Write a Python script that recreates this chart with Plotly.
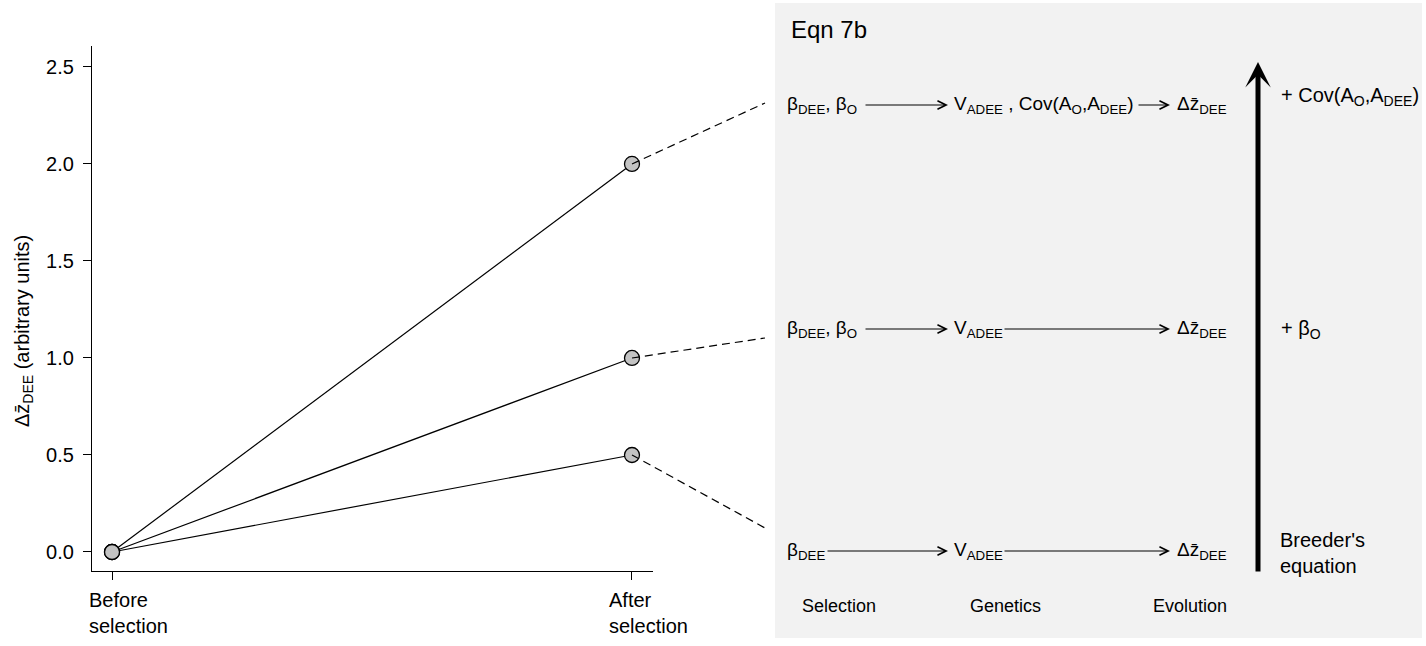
import plotly.graph_objects as go

# ---------------- data ----------------
stages = [0, 1]
stage_labels = ["Before<br>selection", "After<br>selection"]
series_low = [0.0, 0.5]
series_mid = [0.0, 1.0]
series_high = [0.0, 2.0]
y_ticks = [0.0, 0.5, 1.0, 1.5, 2.0, 2.5]
y_tick_labels = ["0.0", "0.5", "1.0", "1.5", "2.0", "2.5"]

panel_title = "Eqn 7b"
column_labels = ["Selection", "Genetics", "Evolution"]
row_selection = ["β<sub>DEE</sub>, β<sub>O</sub>", "β<sub>DEE</sub>, β<sub>O</sub>", "β<sub>DEE</sub>"]
row_genetics = ["V<sub>ADEE</sub> , Cov(A<sub>O</sub>,A<sub>DEE</sub>)", "V<sub>ADEE</sub>", "V<sub>ADEE</sub>"]
row_evolution = ["Δz̄<sub>DEE</sub>", "Δz̄<sub>DEE</sub>", "Δz̄<sub>DEE</sub>"]
side_labels = ["+ Cov(A<sub>O</sub>,A<sub>DEE</sub>)", "+ β<sub>O</sub>", "Breeder's<br>equation"]

# ---------------- layout geometry (pixels) ----------------
W, H = 1426, 646
FONT = "Liberation Sans, Arial, Helvetica, sans-serif"

def px(x):
    return x / W

def py(y):
    return 1 - y / H

ax_left, ax_right, ax_top, ax_bottom = 92, 653, 46, 571
x_range = [-0.0385, 1.0404]
y_range = [-0.098, 2.608]

dom_x = [px(ax_left), px(ax_right)]
dom_y = [py(ax_bottom), py(ax_top)]

def full_range(r, d):
    s = (r[1] - r[0]) / (d[1] - d[0])
    return [r[0] - d[0] * s, r[0] + (1 - d[0]) * s]

x2_range = full_range(x_range, dom_x)
y2_range = full_range(y_range, dom_y)

def to_x2(p):
    return x2_range[0] + (x2_range[1] - x2_range[0]) * p / W

def to_y2(p):
    return y2_range[1] - (y2_range[1] - y2_range[0]) * p / H

# diagram rows (pixel rows of the right panel)
row_y = [105, 329, 551]
connector_y = [103, 338, 528]
connector_x = 765

fig = go.Figure()

# dashed connectors from the "after" points to the diagram rows (full-figure overlay axes)
for vals, cy in zip([series_high, series_mid, series_low], connector_y):
    fig.add_trace(go.Scatter(
        x=[stages[1], to_x2(connector_x)], y=[vals[1], to_y2(cy)],
        xaxis="x2", yaxis="y2", mode="lines",
        line=dict(color="black", width=1.2, dash="8px,5px"),
        hoverinfo="skip", showlegend=False))

for vals in [series_high, series_mid, series_low]:
    fig.add_trace(go.Scatter(
        x=stages, y=vals, mode="lines+markers",
        line=dict(color="black", width=1.2),
        marker=dict(size=15, color="#c3c3c3", line=dict(color="black", width=1.3)),
        showlegend=False))

annotations = []

def text(x, y, s, size=19, xanchor="left", yanchor="middle", align="left"):
    annotations.append(dict(x=px(x), y=py(y), xref="paper", yref="paper", text=s,
                            showarrow=False, xanchor=xanchor, yanchor=yanchor, align=align,
                            font=dict(family=FONT, size=size, color="black")))

def harrow(x0, x1, y):
    annotations.append(dict(x=px(x1), y=py(y), xref="paper", yref="paper", text="",
                            showarrow=True, ax=-(x1 - x0), ay=0, arrowhead=5,
                            arrowsize=1.7, arrowwidth=1, arrowcolor="black", standoff=0))

text(789, 30, panel_title, size=24)

for i, ry in enumerate(row_y):
    text(785, ry, row_selection[i])
    text(952, ry, row_genetics[i])
    text(1175, ry, row_evolution[i])

harrow(864, 948, row_y[0]); harrow(1137, 1170, row_y[0])
harrow(864, 948, row_y[1]); harrow(1003, 1170, row_y[1])
harrow(826, 948, row_y[2]); harrow(1003, 1170, row_y[2])

for lab, cx in zip(column_labels, [839, 1005, 1190]):
    text(cx, 606, lab, size=18, xanchor="center")

# big vertical arrow
annotations.append(dict(x=px(1258), y=py(62), xref="paper", yref="paper", text="",
                        showarrow=True, ax=0, ay=573 - 62, arrowhead=3, arrowsize=0.85,
                        arrowwidth=5, arrowcolor="black", standoff=0))

text(1279, 97, side_labels[0], size=20)
text(1279, 329, side_labels[1], size=20)
text(1278, 553, side_labels[2], size=20)

# x tick labels (left-aligned blocks placed on the category positions)
for sx, lab in zip(stages, stage_labels):
    annotations.append(dict(x=sx, y=py(587), xref="x", yref="paper", text=lab,
                            showarrow=False, xanchor="left", yanchor="top", align="left",
                            xshift=-25,
                            font=dict(family=FONT, size=20, color="black")))

# y axis title
annotations.append(dict(x=px(23), y=py(331), xref="paper", yref="paper",
                        text="Δz̄<sub>DEE</sub> (arbitrary units)", textangle=-90,
                        showarrow=False, xanchor="center", yanchor="middle",
                        font=dict(family=FONT, size=20, color="black")))

fig.update_layout(
    width=W, height=H, autosize=False,
    margin=dict(l=0, r=0, t=0, b=0, autoexpand=False),
    paper_bgcolor="white", plot_bgcolor="rgba(0,0,0,0)",
    font=dict(family=FONT, color="black"),
    shapes=[dict(type="rect", xref="paper", yref="paper",
                 x0=px(775), x1=px(1422), y0=py(638), y1=py(3),
                 fillcolor="#f2f2f2", line=dict(width=0), layer="below")],
    annotations=annotations,
    xaxis=dict(domain=dom_x, range=x_range, anchor="y", automargin=False,
               tickvals=stages, showticklabels=False,
               showline=True, linecolor="black", linewidth=1.3,
               ticks="outside", ticklen=8, tickwidth=1.2, tickcolor="black",
               showgrid=False, zeroline=False),
    yaxis=dict(domain=dom_y, range=y_range, anchor="x", automargin=False,
               tickvals=y_ticks, ticktext=y_tick_labels,
               showline=True, linecolor="black", linewidth=1.3,
               ticks="outside", ticklen=8, tickwidth=1.2, tickcolor="black",
               showgrid=False, zeroline=False, ticklabelstandoff=5,
               tickfont=dict(family=FONT, size=20, color="black")),
    xaxis2=dict(domain=[0, 1], range=x2_range, anchor="y2", visible=False,
                fixedrange=True, automargin=False),
    yaxis2=dict(domain=[0, 1], range=y2_range, anchor="x2", visible=False,
                fixedrange=True, automargin=False),
)

fig.write_html(
    "out.html",
    config={"responsive": False, "displayModeBar": False},
    default_width="1426px", default_height="646px",
    post_script=("document.body.style.margin='0';"
                 "document.body.style.padding='0';"
                 "document.body.style.overflow='hidden';"
                 "document.documentElement.style.overflow='hidden';"),
)
